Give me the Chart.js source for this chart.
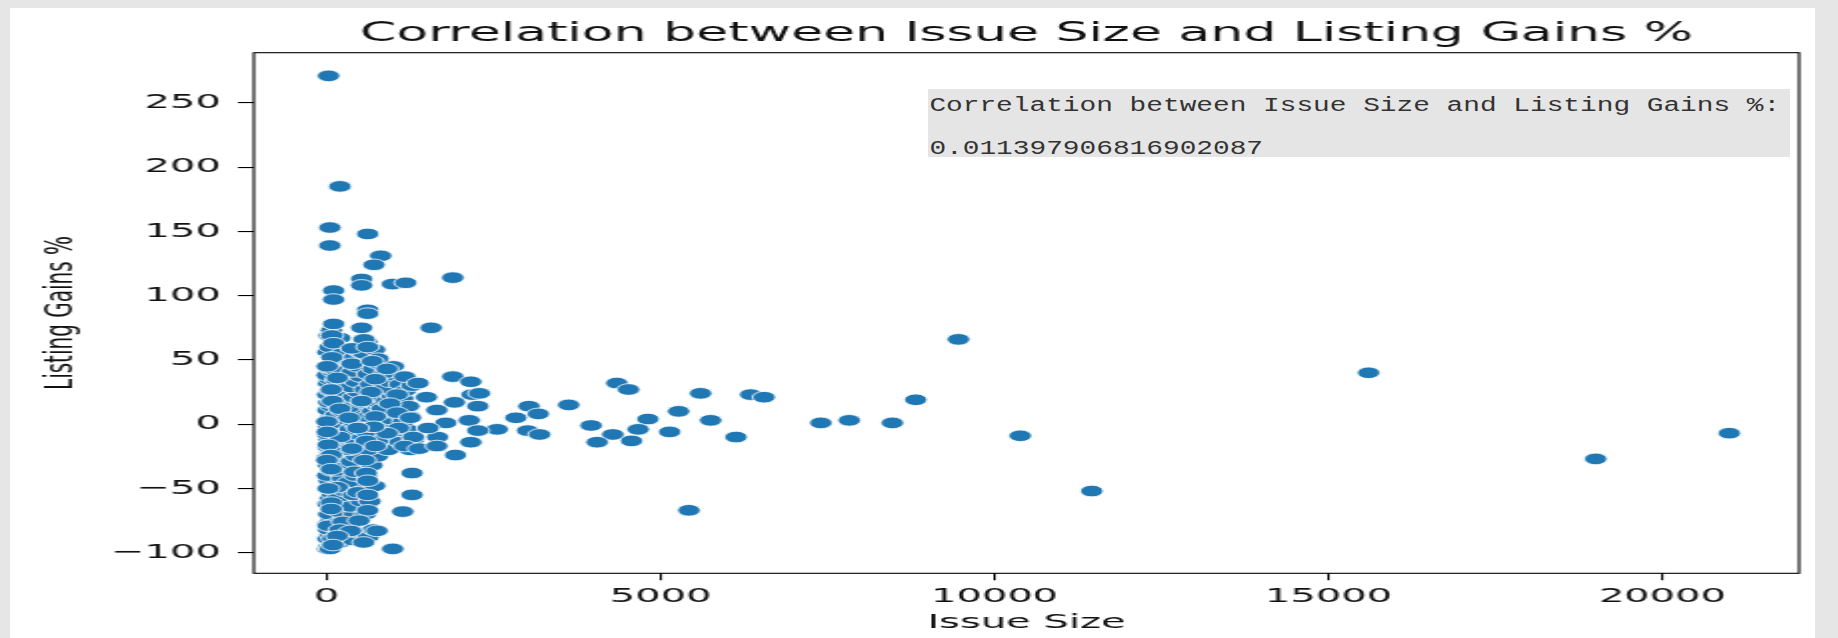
<!DOCTYPE html>
<html>
<head>
<meta charset="utf-8">
<title>Issue Size x Listing Gains</title>
<script src="https://cdn.jsdelivr.net/npm/chart.js@4.4.1/dist/chart.umd.min.js"></script>
<style>
  html, body { margin: 0; padding: 0; background: #e6e6e6; }
  body { position: relative; width: 1838px; height: 638px; overflow: hidden; }
  /* white notebook cell; the figure is stretched horizontally like the screenshot */
  #cell { position: absolute; left: 10px; top: 8px; width: 1805px; height: 630px; background: #fff; }
  #corr-box { position: absolute; left: 928px; top: 89px; width: 862px; height: 68px; background: #e5e5e5; overflow: hidden; }
  #corr-box pre { margin: -5px 0 0 0; padding: 0 0 0 1px; font-family: "Liberation Mono", monospace; font-size: 20px; line-height: 43px; color: #333; transform: scaleX(1.39); transform-origin: 0 0; }
</style>
</head>
<body>
<div id="cell">
  <canvas id="chart" width="903" height="630" style="width: 1805px; height: 630px;"></canvas>
</div>
<div id="corr-box"><pre id="corr-text"></pre></div>

<script>
// valores (Issue Size em crores, Listing Gains em %)
const issueSize = [
  15, 40, 90, 20, 60, 30, 100, 15, 70, 35, 90, 20, 55, 80, 25, 110, 40, 15, 75, 30,
  100, 10, 60, 25, 95, 40, 15, 80, 30, 110, 10, 55, 90, 20, 70, 35, 105, 15, 60, 85,
  25, 45, 10, 95, 30, 65, 80, 20, 50, 105, 40, 75, 105,
  200, 160, 250, 210, 150, 280, 180, 230, 160, 270, 190, 240, 150, 220, 270, 170, 230, 200, 150, 260,
  180, 280, 140, 230, 190, 260, 160, 210, 280, 150, 240, 190, 270, 170, 230, 200, 140,
  380, 450, 340, 480, 420, 360, 520, 400, 470, 330, 430, 500, 370, 450, 340, 510, 410, 470, 350, 430,
  500, 380, 460, 330, 520, 400, 470, 360, 440, 510, 390, 460, 350, 420, 500, 380,
  620, 700, 580, 650, 720, 600, 680, 760, 620, 700, 780, 590, 660, 740, 610, 690, 770, 640, 720, 580,
  660, 750, 620, 700, 780, 640, 560, 720, 600, 560,
  850, 920, 1000, 1100, 1200, 880, 960, 1050, 1150, 1250, 830, 900, 980, 1060, 1140, 1230, 860, 940, 1020, 1100,
  880, 1000, 1300, 1250, 1180, 1280,
  30, 200, 50, 50, 615, 810, 710, 525, 525, 985, 1185, 1890, 105, 105, 615, 615, 105, 525, 1565, 80,
  105, 380, 615, 80, 770, 10, 380, 685, 905, 160, 730, 1170, 1370, 1890, 2160, 70, 665, 1055, 1495, 2180,
  2290, 90, 525, 950, 1915, 2265, 200, 1055, 1650, 335, 5, 730, 1255, 1785, 2135, 2835, 3030, 3170, 3625, 3960,
  4810, 5270, 5750, 5600, 4345, 4520, 6350, 6550, 7400, 7825, 8470, 8820, 5135, 4665, 4285, 4050, 4565, 6130, 2555, 2265,
  3010, 3190, 2160, 1930, 1660, 1520, 1300, 1170, 1385, 1650, 1080, 905, 705, 465, 200, 10, 95, 25, 595, 730,
  380, 70, 570, 5, 70, 420, 595, 1280, 615, 160, 25, 465, 615, 1280, 70, 70, 615, 1140, 5425, 25,
  245, 485, 200, 360, 755, 95, 160, 555, 990, 55, 95, 9460, 15600, 10385, 11455, 19000, 21000
];

const listingGains = [
  -97, -95, -93, -89, -86, -82, -80, -78, -75, -70, -66, -62, -58, -54, -50, -48, -44, -40, -36, -32,
  -28, -26, -22, -18, -15, -12, -8, -5, -2, 0, 2, 5, 8, 11, 14, 17, 20, 23, 26, 29,
  32, 35, 38, 41, 44, 47, 52, 56, 60, 64, 69, 73, 78,
  -92, -88, -85, -81, -77, -73, -68, -63, -58, -52, -47, -42, -36, -31, -26, -21, -16, -11, -6, -3,
  1, 4, 7, 10, 14, 18, 22, 26, 30, 34, 38, 42, 46, 50, 55, 67, 42,
  -90, -84, -79, -74, -70, -64, -60, -55, -50, -45, -40, -34, -29, -25, -20, -16, -12, -8, -4, 0,
  3, 6, 10, 13, 17, 21, 25, 29, 33, 37, 41, 45, 48, 52, 56, 59,
  -88, -82, -70, -60, -48, -40, -32, -25, -20, -14, -9, -6, -2, 2, 6, 10, 14, 18, 22, 27,
  31, 35, 39, 43, 47, 52, 55, 58, 64, 66,
  -12, -20, -8, -14, -4, -2, 4, 8, 2, 6, 12, 18, 22, 27, 20, 14, 28, 33, 38, 31,
  40, 45, -12, -20, 26, 30,
  271, 185, 153, 139, 148, 131, 124, 113, 108, 109, 110, 114, 104, 97, 89, 86, 78, 75, 75, 69,
  63, 59, 60, 52, 51, 45, 47, 49, 43, 36, 35, 37, 32, 37, 33, 27, 25, 23, 21, 23,
  24, 18, 18, 16, 17, 14, 12, 9, 11, 5, 2, 6, 5, 1, 3, 5, 14, 8, 15, -1,
  4, 10, 3, 24, 32, 27, 23, 21, 1, 3, 1, 19, -6, -4, -8, -14, -13, -10, -4, -5,
  -5, -8, -14, -24, -10, -3, -10, -17, -19, -17, -3, -7, -2, -3, -10, -6, -19, -16, -13, -17,
  -19, -24, -28, -28, -35, -37, -38, -38, -44, -49, -50, -53, -55, -55, -61, -66, -67, -68, -67, -79,
  -76, -75, -82, -83, -83, -89, -87, -92, -97, -97, -94, 66, 40, -9, -52, -27, -7
];

const xTickValues = [0, 5000, 10000, 15000, 20000];
const xTickLabels = ['0', '5000', '10000', '15000', '20000'];
const yTickValues = [-100, -50, 0, 50, 100, 150, 200, 250];
const yTickLabels = ['\u2212100', '\u221250', '0', '50', '100', '150', '200', '250'];

const correlationText = '0.011397906816902087';

document.getElementById('corr-text').textContent =
  'Correlation between Issue Size and Listing Gains %:\n' + correlationText;

function getPoints() {
  let points = new Array();
  for (let i = 0; i < issueSize.length; i++) {
    points.push({ x: issueSize[i], y: listingGains[i] });
  }
  return points;
}

// moldura do eixo (4 lados, como no matplotlib)
const frame = {
  id: 'frame',
  afterDatasetsDraw(chart) {
    const { ctx, chartArea } = chart;
    ctx.save();
    ctx.strokeStyle = '#000';
    ctx.lineWidth = 1.1;
    ctx.strokeRect(chartArea.left, chartArea.top,
      chartArea.right - chartArea.left, chartArea.bottom - chartArea.top);
    ctx.restore();
  }
};

const font = { family: 'DejaVu Sans', size: 20, weight: 'normal' };
const textColor = '#111';

new Chart(document.getElementById('chart'), {
  type: 'scatter',
  data: {
    datasets: [{
      label: 'Listing Gains %',
      data: getPoints(),
      backgroundColor: '#1f77b4',
      borderColor: '#ffffff',
      borderWidth: 0.8,
      pointRadius: 5.8,
      pointHoverRadius: 5.8
    }]
  },
  options: {
    responsive: false,
    animation: false,
    devicePixelRatio: 1,
    layout: { padding: { left: 0, right: 8, top: 0, bottom: 0 } },
    plugins: {
      legend: { display: false },
      tooltip: { enabled: false },
      title: {
        display: true,
        text: 'Correlation between Issue Size and Listing Gains %',
        fullSize: false,
        color: textColor,
        font: { family: 'DejaVu Sans', size: 26, weight: 'normal' },
        padding: { top: 10.7, bottom: 2.8 }
      }
    },
    scales: {
      x: {
        type: 'linear',
        bounds: 'data',
        min: -1088,
        max: 22044,
        afterBuildTicks: (scale) => {
          scale.ticks = xTickValues.map(v => ({ value: v }));
        },
        afterFit: (scale) => { scale.height = 64.7; },
        grid: { drawOnChartArea: false, drawTicks: true, tickLength: 7, color: '#000', lineWidth: 1.1 },
        border: { display: false },
        ticks: {
          padding: 4.4,
          color: textColor,
          font: font,
          maxRotation: 0,
          autoSkip: false,
          callback: (value) => xTickLabels[xTickValues.indexOf(value)]
        },
        title: { display: true, text: 'Issue Size', color: textColor, font: font, padding: { top: 0, bottom: 3.3 } }
      },
      y: {
        type: 'linear',
        bounds: 'data',
        min: -116,
        max: 289,
        afterBuildTicks: (scale) => {
          scale.ticks = yTickValues.map(v => ({ value: v }));
        },
        afterFit: (scale) => { scale.width = 122; },
        grid: { drawOnChartArea: false, drawTicks: true, tickLength: 8, color: '#000', lineWidth: 1.1 },
        border: { display: false },
        ticks: {
          padding: 8.5,
          color: textColor,
          font: font,
          autoSkip: false,
          callback: (value) => yTickLabels[yTickValues.indexOf(value)]
        },
        title: { display: true, text: 'Listing Gains %', color: textColor, font: font, padding: { top: 13.6, bottom: 0 } }
      }
    }
  },
  plugins: [frame]
});
</script>
</body>
</html>
